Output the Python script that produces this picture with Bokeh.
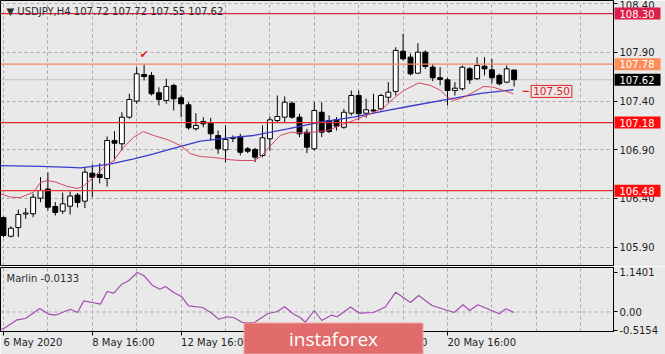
from bokeh.plotting import figure
from bokeh.models import (Range1d, FixedTicker, Span, Label, ColumnDataSource, NumeralTickFormatter,
                          CustomJSTickFormatter)
from bokeh.layouts import column
from bokeh.core.properties import value
from bokeh.embed import file_html
from bokeh.resources import INLINE

BG = "#e9e9e9"
FONT = "DejaVu Sans"

# ---- data (USDJPY H4) ----
opens = [106.204, 106.012, 106.101, 106.240, 106.242, 106.403, 106.497, 106.317, 106.269, 106.320,
         106.435, 106.372, 106.660, 106.646, 106.605, 106.996, 106.962, 107.235, 107.400, 107.674,
         107.664, 107.486, 107.407, 107.561, 107.434, 107.362, 107.116, 107.191, 107.173, 107.047,
         106.900, 107.016, 107.037, 106.910, 106.903, 106.841, 107.013, 107.201, 107.235, 107.379,
         107.235, 107.081, 106.910, 107.286, 107.201, 107.208, 107.132, 107.276, 107.458, 107.276,
         107.309, 107.321, 107.440, 107.500, 107.913, 107.852, 107.687, 107.903, 107.749, 107.640,
         107.619, 107.509, 107.527, 107.732, 107.630, 107.759, 107.722, 107.664, 107.595, 107.720]
highs = [106.215, 106.115, 106.286, 106.300, 106.450, 106.620, 106.667, 106.363, 106.460, 106.471,
         106.456, 106.715, 106.749, 106.760, 107.037, 107.091, 107.286, 107.476, 107.749, 107.777,
         107.698, 107.543, 107.630, 107.578, 107.458, 107.389, 107.276, 107.235, 107.229, 107.098,
         107.150, 107.047, 107.064, 106.927, 106.920, 107.150, 107.242, 107.458, 107.448, 107.396,
         107.270, 107.116, 107.389, 107.389, 107.253, 107.235, 107.321, 107.509, 107.509, 107.424,
         107.476, 107.476, 107.595, 107.954, 108.092, 107.887, 107.996, 107.921, 107.784, 107.749,
         107.640, 107.595, 107.766, 107.749, 107.852, 107.852, 107.835, 107.681, 107.766, 107.720]
lows = [106.000, 105.999, 106.004, 106.190, 106.207, 106.361, 106.276, 106.225, 106.242, 106.235,
        106.307, 106.300, 106.413, 106.554, 106.523, 106.790, 106.893, 107.219, 107.373, 107.612,
        107.458, 107.355, 107.373, 107.304, 107.235, 107.106, 107.098, 107.132, 106.996, 106.859,
        106.773, 106.978, 106.841, 106.865, 106.773, 106.824, 106.893, 107.184, 107.184, 107.219,
        107.030, 106.865, 106.893, 107.030, 107.071, 107.098, 107.116, 107.253, 107.208, 107.229,
        107.270, 107.304, 107.389, 107.458, 107.818, 107.664, 107.681, 107.732, 107.605, 107.561,
        107.355, 107.458, 107.509, 107.578, 107.619, 107.664, 107.584, 107.561, 107.584, 107.550]
closes = [106.019, 106.094, 106.235, 106.250, 106.413, 106.482, 106.310, 106.256, 106.345, 106.425,
          106.358, 106.670, 106.618, 106.615, 106.996, 106.968, 107.235, 107.417, 107.681, 107.653,
          107.476, 107.417, 107.550, 107.424, 107.373, 107.126, 107.150, 107.167, 107.064, 106.910,
          107.006, 107.026, 106.875, 106.886, 106.824, 107.023, 107.208, 107.242, 107.389, 107.235,
          107.064, 106.927, 107.304, 107.081, 107.088, 107.143, 107.286, 107.458, 107.270, 107.311,
          107.299, 107.458, 107.492, 107.921, 107.835, 107.681, 107.903, 107.756, 107.640, 107.623,
          107.509, 107.533, 107.749, 107.619, 107.766, 107.732, 107.640, 107.578, 107.732, 107.620]
bar_idx = list(range(len(opens)))

red_ma_idx = [-0.4, 0.95, 2.3, 4.05, 5.0, 5.95, 7.0, 8.65, 10.0, 10.8, 12.2, 13.5, 14.9, 16.2, 17.6,
              18.9, 20.3, 22.2, 23.9, 25.3, 26.6, 28.4, 30.7, 32.0, 33.8, 34.7, 36.1, 37.4, 38.8,
              40.5, 41.9, 43.8, 45.5, 47.3, 49.6, 51.4, 52.7, 54.1, 56.1, 57.7, 59.1, 60.0, 60.8,
              62.2, 63.5, 64.9, 66.2, 67.6, 68.9]
red_ma_val = [106.448, 106.413, 106.410, 106.464, 106.564, 106.584, 106.569, 106.523, 106.502, 106.528,
              106.618, 106.718, 106.790, 106.924, 107.030, 107.088, 107.047, 107.003, 106.944, 106.859,
              106.831, 106.821, 106.797, 106.790, 106.790, 106.824, 106.944, 107.047, 107.081, 107.071,
              107.081, 107.098, 107.150, 107.201, 107.270, 107.335, 107.427, 107.509, 107.587, 107.561,
              107.509, 107.440, 107.407, 107.440, 107.492, 107.551, 107.543, 107.509, 107.476]
blue_ma_idx = [-0.4, 5.0, 9.0, 10.4, 11.8, 14.5, 17.6, 20.3, 22.2, 26.6, 30.7, 33.8, 38.4, 42.8,
               47.3, 51.9, 55.4, 60.0, 64.5, 68.9]
blue_ma_val = [106.738, 106.730, 106.720, 106.715, 106.728, 106.756, 106.807, 106.859, 106.900, 106.990,
               107.026, 107.047, 107.116, 107.184, 107.235, 107.304, 107.355, 107.419, 107.479, 107.517]

osc_idx = [-1.0, 0.04, 1.85, 2.97, 4.9, 6.1, 7.0, 9.05, 10.0, 10.85, 12.0, 13.1, 14.0, 14.9, 16.0,
           16.9, 18.1, 19.0, 20.1, 21.1, 21.9, 23.0, 24.1, 25.0, 26.9, 28.0, 29.1, 30.2, 31.1, 32.3,
           33.9, 35.7, 37.0, 38.0, 39.2, 40.1, 40.8, 42.0, 43.0, 44.3, 45.1, 46.9, 48.1, 50.0, 51.6,
           53.0, 55.0, 56.1, 57.9, 60.9, 62.1, 63.0, 64.1, 67.0, 67.9, 69.0]
osc_val = [-0.5154, -0.471, -0.223, -0.186, 0.100, -0.063, -0.091, 0.080, -0.014, 0.320, 0.271, 0.223,
           0.586, 0.537, 0.794, 0.891, 1.129, 1.034, 0.766, 0.651, 0.729, 0.557, 0.434, 0.177, 0.129,
           -0.014, -0.206, -0.137, -0.157, -0.300, -0.300, -0.051, 0.014, 0.149, -0.063, -0.157, -0.291,
           0.043, -0.243, -0.091, -0.137, 0.143, -0.034, -0.014, 0.143, 0.566, 0.271, 0.471, 0.186,
           -0.014, 0.206, 0.043, 0.209, -0.051, 0.091, -0.0133]

price_ticks = [105.90, 106.40, 106.90, 107.40, 107.90, 108.40]
osc_ticks = [-0.5154, 0.0, 1.1401]
osc_tick_labels = ["-0.5154", "0.00", "1.1401"]
date_tick_idx = [0, 12, 24, 36, 48, 60]
date_tick_labels = ["6 May 2020", "8 May 16:00", "12 May 16:00", "14 May 16:00", "18 May 16:00", "20 May 16:00"]
day_grid_idx = list(range(0, 84, 6))

levels = [108.30, 107.78, 107.18, 106.48]
level_line_colors = ["#d8284a", "#f28a62", "#e22b2b", "#e23636"]
level_box_colors = ["#dc1f48", "#ff8c5a", "#ff0a0a", "#ff0a0a"]
last_price = 107.62
tag_price = 107.50
title_text = "\u25BC USDJPY,H4  107.72 107.72 107.55 107.62"
osc_name = "Marlin -0.0133"
mark_bar = 19
watermark = "instaforex"

# ---- layout helpers ----
W, H = 665, 354
MAIN_H, OSC_H = 266, 88
MAIN_FH, OSC_FH = 265, 64
FRAME_W = 613
X0, X1 = -0.405, 82.43
PY0, PY1 = 105.711, 108.434     # main price range (bottom, top)
OY0, OY1 = -0.557, 1.271        # oscillator range
PX_PER_BAR = FRAME_W / (X1 - X0)
PX_PER_PRICE = MAIN_FH / (PY1 - PY0)


def main_y(pix):  # pixel from the top of the page -> price
    return PY1 - pix / PX_PER_PRICE


def osc_y(pix):  # pixel from the top of the osc frame -> value
    return OY1 - pix / OSC_FH * (OY1 - OY0)


def style_axis(ax):
    ax.major_label_text_font = FONT
    ax.major_label_text_font_size = "10px"
    ax.major_label_text_color = "#1e1e1e"
    ax.major_tick_out = 4
    ax.major_tick_in = 0
    ax.minor_tick_out = 0
    ax.minor_tick_in = 0
    ax.axis_line_color = "black"
    ax.major_tick_line_color = "black"
    ax.major_label_standoff = 2


# ---- main price panel ----
p = figure(width=W, height=MAIN_H, x_range=Range1d(X0, X1), y_range=Range1d(PY0, PY1),
           output_backend="svg", toolbar_location=None, x_axis_location=None,
           y_axis_location="right", min_border_left=0, min_border_top=0,
           min_border_bottom=MAIN_H - MAIN_FH, min_border_right=W - FRAME_W,
           background_fill_color=BG, border_fill_color=BG, outline_line_color="black")

ya = p.yaxis[0]
ya.ticker = FixedTicker(ticks=price_ticks)
ya.formatter = NumeralTickFormatter(format="0.00")
style_axis(ya)

p.ygrid.ticker = FixedTicker(ticks=price_ticks)
p.xgrid.ticker = FixedTicker(ticks=day_grid_idx)
for g in (p.xgrid, p.ygrid):
    g.grid_line_color = "#a9a9a9"
    g.grid_line_dash = "3 3"
    g.grid_line_width = 1

p.add_layout(Span(location=last_price, dimension="width", line_color="#c4c4c4",
                  line_width=1, level="underlay"))

src = ColumnDataSource(dict(
    x=bar_idx, h=highs, l=lows,
    top=[max(o, c) for o, c in zip(opens, closes)],
    bottom=[min(o, c) for o, c in zip(opens, closes)],
    fill=["white" if c >= o else "black" for o, c in zip(opens, closes)],
))
p.segment("x", "h", "x", "l", source=src, line_color="black", line_width=1)
p.vbar(x="x", top="top", bottom="bottom", width=0.66, fill_color="fill",
       line_color="black", line_width=1, source=src)

p.line(blue_ma_idx, blue_ma_val, line_color="#3a3ad0", line_width=1.3)
p.line(red_ma_idx, red_ma_val, line_color="#d64560", line_width=1)

for lvl, lc in zip(levels, level_line_colors):
    p.add_layout(Span(location=lvl, dimension="width", line_color=lc, line_width=1.3))

# 107.50 tag with short dash
n = len(bar_idx)
p.segment(x0=[n + 0.15], y0=[tag_price], x1=[n + 1.0], y1=[tag_price],
          line_color="#e02020", line_width=1.3)
p.add_layout(Label(x=n + 1.3, y=tag_price, text=f"{tag_price:.2f}", text_align="left",
                   text_baseline="middle", text_font=FONT, text_font_size="10.5px",
                   text_color="#e02020", background_fill_color=BG,
                   border_line_color="#e02020", border_line_width=1, padding=(2, 2)))

# check mark above the top bar
p.add_layout(Label(x=mark_bar, y=highs[mark_bar], y_offset=3, text="\u2714", text_align="center",
                   text_baseline="bottom", text_font=FONT, text_font_size="11px",
                   text_color="#e8262a"))

# title
p.add_layout(Label(x=X0, y=main_y(11), x_offset=6, text=title_text, text_align="left",
                   text_baseline="middle", text_font=FONT, text_font_size="10px",
                   text_color="#2b2b2b"))

# ---- oscillator panel ----
q = figure(width=W, height=OSC_H, x_range=p.x_range, y_range=Range1d(OY0, OY1),
           output_backend="svg", toolbar_location=None, y_axis_location="right",
           min_border_left=0, min_border_top=1, min_border_bottom=OSC_H - 1 - OSC_FH,
           min_border_right=W - FRAME_W,
           background_fill_color=BG, border_fill_color=BG, outline_line_color="black")

oy = q.yaxis[0]
oy.ticker = FixedTicker(ticks=osc_ticks)
oy.formatter = CustomJSTickFormatter(args=dict(vals=osc_ticks, labs=osc_tick_labels), code="""
const i = vals.findIndex(v => Math.abs(v - tick) < 1e-9);
return i >= 0 ? labs[i] : "";
""")
style_axis(oy)

ox = q.xaxis[0]
ox.ticker = FixedTicker(ticks=date_tick_idx)
ox.formatter = CustomJSTickFormatter(code='return ""')
style_axis(ox)

q.ygrid.visible = False
q.xgrid.ticker = FixedTicker(ticks=day_grid_idx)
q.xgrid.grid_line_color = "#a9a9a9"
q.xgrid.grid_line_dash = "3 3"
q.add_layout(Span(location=0, dimension="width", line_color="#a9a9a9", line_dash="3 3",
                  line_width=1, level="underlay"))

q.line(osc_idx, osc_val, line_color="#a24cb0", line_width=1.2)

q.add_layout(Label(x=X0, y=osc_y(11), x_offset=6, text=osc_name, text_align="left",
                   text_baseline="middle", text_font=FONT, text_font_size="10px",
                   text_color="#2b2b2b"))

# ---- transparent overlay (same bar and price scale) for texts outside the frames ----
ov = figure(width=W, height=H, x_range=Range1d(X0, X0 + W / PX_PER_BAR),
            y_range=Range1d(main_y(H), PY1), output_backend="svg", toolbar_location=None,
            x_axis_location=None, y_axis_location=None,
            min_border_left=0, min_border_right=0, min_border_top=0, min_border_bottom=0,
            background_fill_color=None, border_fill_color=None, outline_line_color=None,
            margin=(-H, 0, 0, 0))
ov.frame_align = False
ov.grid.visible = False

# price boxes on the right scale
box_prices = levels + [last_price]
box_colors = level_box_colors + ["#000000"]
box_x = X1 + 24 / PX_PER_BAR
ov.rect(x=[box_x] * len(box_prices), y=box_prices, width=46, height=12,
        width_units="screen", height_units="screen", fill_color=box_colors, line_color=None)
ov.text(x=[X1] * len(box_prices), y=box_prices, text=[f"{v:.2f}" for v in box_prices],
        x_offset=6, text_align="left", text_baseline="middle", text_font=value(FONT),
        text_font_size="10px", text_color="white")

# date labels, left aligned at their ticks
ov.text(x=date_tick_idx, y=[main_y(MAIN_H + 1 + OSC_FH + 5)] * len(date_tick_idx),
        text=date_tick_labels, text_align="left", text_baseline="top", text_font=value(FONT),
        text_font_size="10px", text_color="#1e1e1e")

# watermark
wm_x = X0 + 333 / PX_PER_BAR
wm_y = main_y(338)
ov.rect(x=[wm_x], y=[wm_y], width=179, height=31, width_units="screen", height_units="screen",
        fill_color="#e26b6b", line_color="#f2a5a5", line_width=1)
ov.text(x=[wm_x], y=[wm_y], text=[watermark], text_align="center", text_baseline="middle",
        text_font=value("Open Sans"), text_font_size="19px", text_color="white")

layout = column(p, q, ov, spacing=0)
open("out.html", "w").write(file_html(layout, INLINE))
